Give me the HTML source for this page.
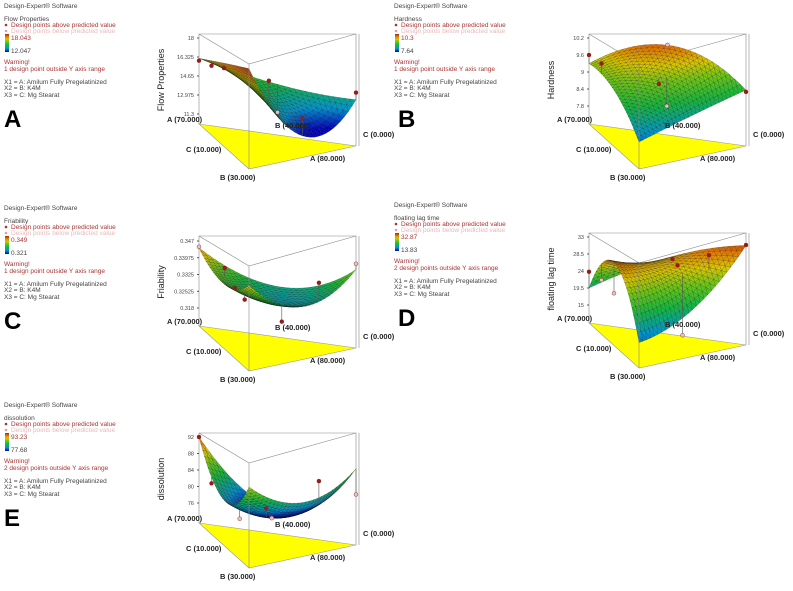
<!DOCTYPE html>
<html><head><meta charset="utf-8">
<style>
html,body{margin:0;padding:0;background:#fff;}
svg{display:block;font-family:"Liberation Sans",sans-serif;}
.lg{font-size:6.5px;fill:#444;}
.rd{font-size:6.5px;fill:#a33;}
.pk{font-size:6.5px;fill:#e9b8b8;}
.ax{font-size:7.5px;font-weight:bold;fill:#222;}
.tk{font-size:5.5px;fill:#444;}
.yt{font-size:9px;fill:#222;}
.big{font-size:24px;font-weight:900;fill:#000;font-family:"Liberation Sans",sans-serif;}
</style></head>
<body>
<svg id="fig" width="793" height="591" viewBox="0 0 793 591"></svg>
<script>
// ---- data ----
const panelLetters = ["A","B","C","D","E"];
const panelTitles = ["Flow Properties","Hardness","Friability","floating lag time","dissolution"];
const legendMax = ["18.043","10.3","0.349","32.87","93.23"];
const legendMin = ["12.047","7.64","0.321","13.83","77.68"];
const legendMaxV = [18.043,10.3,0.349,32.87,93.23];
const legendMinV = [12.047,7.64,0.321,13.83,77.68];
const warnings = ["1 design point outside Y axis range","1 design point outside Y axis range","1 design point outside Y axis range","2 design points outside Y axis range","2 design points outside Y axis range"];
const ticksA = [18,16.325,14.65,12.975,11.3];
const ticksB = [10.2,9.6,9,8.4,7.8];
const ticksC = [0.347,0.33975,0.3325,0.32525,0.318];
const ticksD = [33,28.5,24,19.5,15];
const ticksE = [92,88,84,80,76];
const tickLabelsC = ["0.347","0.33975","0.3325","0.32525","0.318"];
// surface node values: [left vertex, front vertex, right vertex, left-front mid, front-right mid, left-right mid]
const surfA = [16.2,18.0,13.7,17.2,12.0,14.4];
const surfB = [9.3,7.98,8.75,9.0,8.4,9.99];
const surfC = [0.344,0.342,0.3375,0.336,0.3292,0.3297];
const surfD = [19.5,16,31.4,30.5,20.5,28.2];
const surfE = [92,88,86,81.3,82,76.5];
// design points: [u(left), v(front), w(right), value, above(1)/below(0)]
const ptsA = [[1,0,0,16.0,1],[0.75,0.25,0,16.3,1],[0.5,0.5,0,16.8,1],[0.33,0.33,0.34,15.5,1],[0,0.5,0.5,13.3,1],[0,0,1,14.2,1],[0.5,0,0.5,12.2,0]];
const ptsB = [[1,0,0,9.6,1],[0.75,0.25,0,9.6,1],[0.5,0,0.5,10.0,0],[0.33,0.33,0.34,9.1,1],[0,0,1,8.7,1],[0.3,0.3,0.4,8.4,0]];
const ptsC = [[1,0,0,0.3445,0],[0.7,0.2,0.1,0.3385,1],[0.5,0.4,0.1,0.3333,1],[0.3,0.6,0.1,0.3316,1],[0.2,0.4,0.4,0.3218,1],[0.1,0.2,0.7,0.3345,1],[0,0,1,0.3395,0]];
const ptsD = [[1,0,0,23.8,1],[0.75,0.25,0,24,0],[0.5,0.5,0,23,0],[0.4,0.1,0.5,28.7,1],[0.3,0.2,0.5,28,1],[0.1,0.2,0.7,30.5,1],[0,0,1,31.5,1],[0.2,0.3,0.5,13,0]];
const ptsE = [[1,0,0,92,1],[0.75,0.25,0,83,1],[0.4,0.5,0.1,77.5,0],[0.3,0.4,0.3,79.5,1],[0.2,0.5,0.3,78.5,1],[0.1,0.2,0.7,84.5,1],[0,0,1,81,0],[0.4,0.2,0.4,76,0]];

const tickSets=[ticksA,ticksB,ticksC,ticksD,ticksE];
const surfs=[surfA,surfB,surfC,surfD,surfE];
const ptSets=[ptsA,ptsB,ptsC,ptsD,ptsE];
const offsets=[[0,0],[390,0],[0,202],[390,199],[0,399]];
const tickY=[[38,114],[38,106],[39,106],[38,106],[38,104]];

const NS="http://www.w3.org/2000/svg";
const fig=document.getElementById('fig');
function mk(tag,attrs,parent,txt){const e=document.createElementNS(NS,tag);for(const k in attrs)e.setAttribute(k,attrs[k]);if(txt!==undefined)e.textContent=txt;(parent||fig).appendChild(e);return e;}
function cmap(t){t=Math.max(0,Math.min(1,t));
 const st=[[0,[0,0,190]],[0.18,[0,150,210]],[0.4,[20,185,60]],[0.58,[110,200,20]],[0.72,[220,200,0]],[0.86,[230,120,0]],[1,[160,40,20]]];
 for(let i=1;i<st.length;i++){if(t<=st[i][0]){const a=st[i-1],b=st[i];const f=(t-a[0])/(b[0]-a[0]);return 'rgb('+a[1].map((c,j)=>Math.round(c+(b[1][j]-c)*f)).join(',')+')';}}
 return 'rgb(160,40,20)';}

for(let p=0;p<5;p++){
 const [ox,oy]=offsets[p];
 const g=mk('g',{transform:`translate(${ox},${oy})`});
 
 
 const L=mk('g',{},g);
 
 
 mk('text',{x:4,y:8,class:'lg'},L,'Design-Expert® Software');
 mk('text',{x:4,y:21,class:'lg'},L,panelTitles[p]);
 mk('circle',{cx:6,cy:25,r:1.3,fill:'#a33'},L);
 mk('text',{x:11,y:27,class:'rd'},L,'Design points above predicted value');
 mk('circle',{cx:6,cy:31,r:1.3,fill:'#e0a0a0'},L);
 mk('text',{x:11,y:33,class:'pk'},L,'Design points below predicted value');
 const gid='cb'+p;
 const lg=mk('linearGradient',{id:gid,x1:0,y1:1,x2:0,y2:0},mk('defs',{},L));
 for(let i=0;i<=10;i++)mk('stop',{offset:i/10,'stop-color':cmap(i/10)},lg);
 const cb=mk('rect',{x:5,y:34,width:4,height:18,fill:`url(#${gid})`},L);
 
 
 mk('text',{x:11,y:40,class:'rd'},L,legendMax[p]);
 mk('text',{x:11,y:53,class:'lg',fill:'#336'},L,legendMin[p]);
 mk('text',{x:4,y:64,class:'rd'},L,'Warning!');
 mk('text',{x:4,y:71,class:'rd'},L,warnings[p]);
 mk('text',{x:4,y:84,class:'lg'},L,'X1 = A: Amilum Fully Pregelatinized');
 mk('text',{x:4,y:90,class:'lg'},L,'X2 = B: K4M');
 mk('text',{x:4,y:97,class:'lg'},L,'X3 = C: Mg Stearat');
 const letter=mk('text',{x:p%2?8:4,y:127,class:'big'},g,panelLetters[p]);
 
 

 const V=[[199,124,90],[249,169,105],[356,146,112]];
 const ticks=tickSets[p];
 const z0=ticks[0], z1=ticks[ticks.length-1];
 const [ty0,ty1]=tickY[p];
 function yLeft(z){return ty0+(z-z0)/(z1-z0)*(ty1-ty0);}
 function frac(z){return (124-yLeft(z))/90;}
 function proj(u,v,w,z){const x=u*V[0][0]+v*V[1][0]+w*V[2][0];const yb=u*V[0][1]+v*V[1][1]+w*V[2][1];const H=u*V[0][2]+v*V[1][2]+w*V[2][2];return [x,yb-frac(z)*H,yb];}
 const s=surfs[p];
 function val(u,v,w){return s[0]*u*(2*u-1)+s[1]*v*(2*v-1)+s[2]*w*(2*w-1)+4*(s[3]*u*v+s[4]*v*w+s[5]*u*w);}

 const base=mk('polygon',{points:V.map(q=>q[0]+','+q[1]).join(' '),fill:'#ffff00',stroke:'#999','stroke-width':0.6},g);
 
 
 const bx=mk('g',{stroke:'#888','stroke-width':0.6,fill:'none'},g);
 
 
 const T=V.map(q=>[q[0],q[1]-q[2]]);
 mk('polyline',{points:`${V[0][0]},${V[0][1]} ${T[0][0]},${T[0][1]} ${T[2][0]},${T[2][1]} ${V[2][0]},${V[2][1]}`},bx);
 mk('line',{x1:T[0][0],y1:T[0][1],x2:T[1][0],y2:T[1][1]},bx);
 mk('line',{x1:T[1][0],y1:T[1][1],x2:T[2][0],y2:T[2][1]},bx);
 const yg=mk('g',{},g);
 
 
 ticks.forEach((tv,i)=>{const y=yLeft(tv);mk('line',{x1:197,y1:y,x2:199,y2:y,stroke:'#333','stroke-width':0.8},yg);
  mk('text',{x:194,y:y+2,class:'tk','text-anchor':'end'},yg,p===2?tickLabelsC[i]:String(tv));});
 const yt=mk('text',{x:0,y:0,class:'yt','text-anchor':'middle',transform:`translate(164,80) rotate(-90)`},g,panelTitles[p]);
 
 

 const N=28, quads=[];
 const sg=mk('g',{},g);
 
 
 for(let i=0;i<N;i++)for(let j=0;j<N-i;j++){
  const tris=[[[i,j],[i+1,j],[i,j+1]]];
  if(i+j<N-1)tris.push([[i+1,j],[i+1,j+1],[i,j+1]]);
  tris.forEach(tr=>{const pts=tr.map(([a,b])=>{const u=a/N,v=b/N,w=1-u-v;const z=val(u,v,w);return {pr:proj(u,v,w,z),z};});
   const zm=(pts[0].z+pts[1].z+pts[2].z)/3;const dep=(pts[0].pr[2]+pts[1].pr[2]+pts[2].pr[2])/3;
   quads.push({pts,zm,dep});});
 }
 quads.sort((a,b)=>a.dep-b.dep);
 const lmin=legendMinV[p],lmax=legendMaxV[p];
 quads.forEach(q=>{const c=cmap((q.zm-lmin)/(lmax-lmin));
  mk('polygon',{points:q.pts.map(o=>o.pr[0].toFixed(1)+','+o.pr[1].toFixed(1)).join(' '),fill:c,stroke:'#111','stroke-width':0.3,'stroke-opacity':0.55},sg);});

 mk('line',{x1:V[1][0],y1:V[1][1],x2:T[1][0],y2:T[1][1],stroke:'#888','stroke-width':0.6},g);
 mk('line',{x1:V[2][0]+3,y1:V[2][1],x2:T[2][0]+3,y2:T[2][1],stroke:'#888','stroke-width':0.6},g);

 const pg=mk('g',{},g);
 
 
 ptSets[p].forEach(d=>{const [u,v,w,z,ab]=d;const pp=proj(u,v,w,z);const sv=proj(u,v,w,val(u,v,w));
  mk('line',{x1:pp[0],y1:pp[1],x2:sv[0],y2:sv[1],stroke:'#555','stroke-width':0.6},pg);
  const c=mk('circle',{cx:pp[0],cy:pp[1],r:2,fill:ab?'#a01818':'#e8c0c0',stroke:'#722','stroke-width':0.4},pg);
  
  });

 const al=mk('g',{},g);
 
 
 mk('text',{x:167,y:122,class:'ax'},al,'A (70.000)');
 mk('text',{x:186,y:152,class:'ax'},al,'C (10.000)');
 mk('text',{x:220,y:180,class:'ax'},al,'B (30.000)');
 mk('text',{x:310,y:161,class:'ax'},al,'A (80.000)');
 mk('text',{x:363,y:137,class:'ax'},al,'C (0.000)');
 mk('text',{x:275,y:128,class:'ax'},al,'B (40.000)');
}
</script>
</body></html>
